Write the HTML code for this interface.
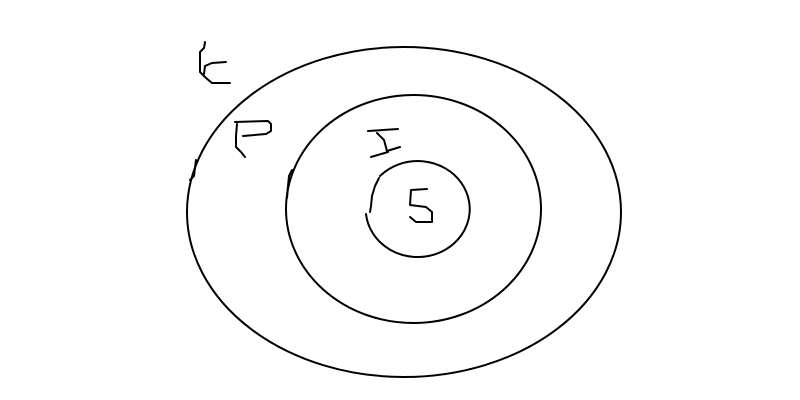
<!DOCTYPE html>
<html><head><meta charset="utf-8"><style>html,body{margin:0;padding:0;background:#fff;width:800px;height:400px;overflow:hidden}</style></head>
<body>
<svg width="800" height="400" viewBox="0 0 800 400" fill="none" stroke="#000" stroke-width="2" stroke-linecap="round" stroke-linejoin="round">
<ellipse cx="404" cy="212" rx="217" ry="165"/>
<ellipse cx="413.5" cy="209" rx="127.5" ry="114"/>
<path d="M380,176 A52,48 0 1,1 366,214"/>
<path d="M379,178 L375,186 L372,196 L371,206 L370,212"/>
<path d="M196,160 L195,168 L194,176 L190,180"/>
<path d="M292,170 L289,176 L288,186 L287,198"/>
<path d="M205,42 L204,48 L200,52 L200,72 L206,78 L212,83 L230,83 M204,74 L205,66 L212,63 L226,62"/>
<path d="M236,136 L237,124 M236,136 L236,147 L241,152 L245,157 M235,122 L268,121 L271,124 L271,131 L266,134 L243,136"/>
<path d="M368,131 L398,129 M377,133 L384,140 L387,151 L400,147 M371,157 L388,152"/>
<path d="M427,189 L411,190 L410,205 L426,207 L432,212 L432,222 L416,222 L410,217"/>
</svg>
</body></html>
